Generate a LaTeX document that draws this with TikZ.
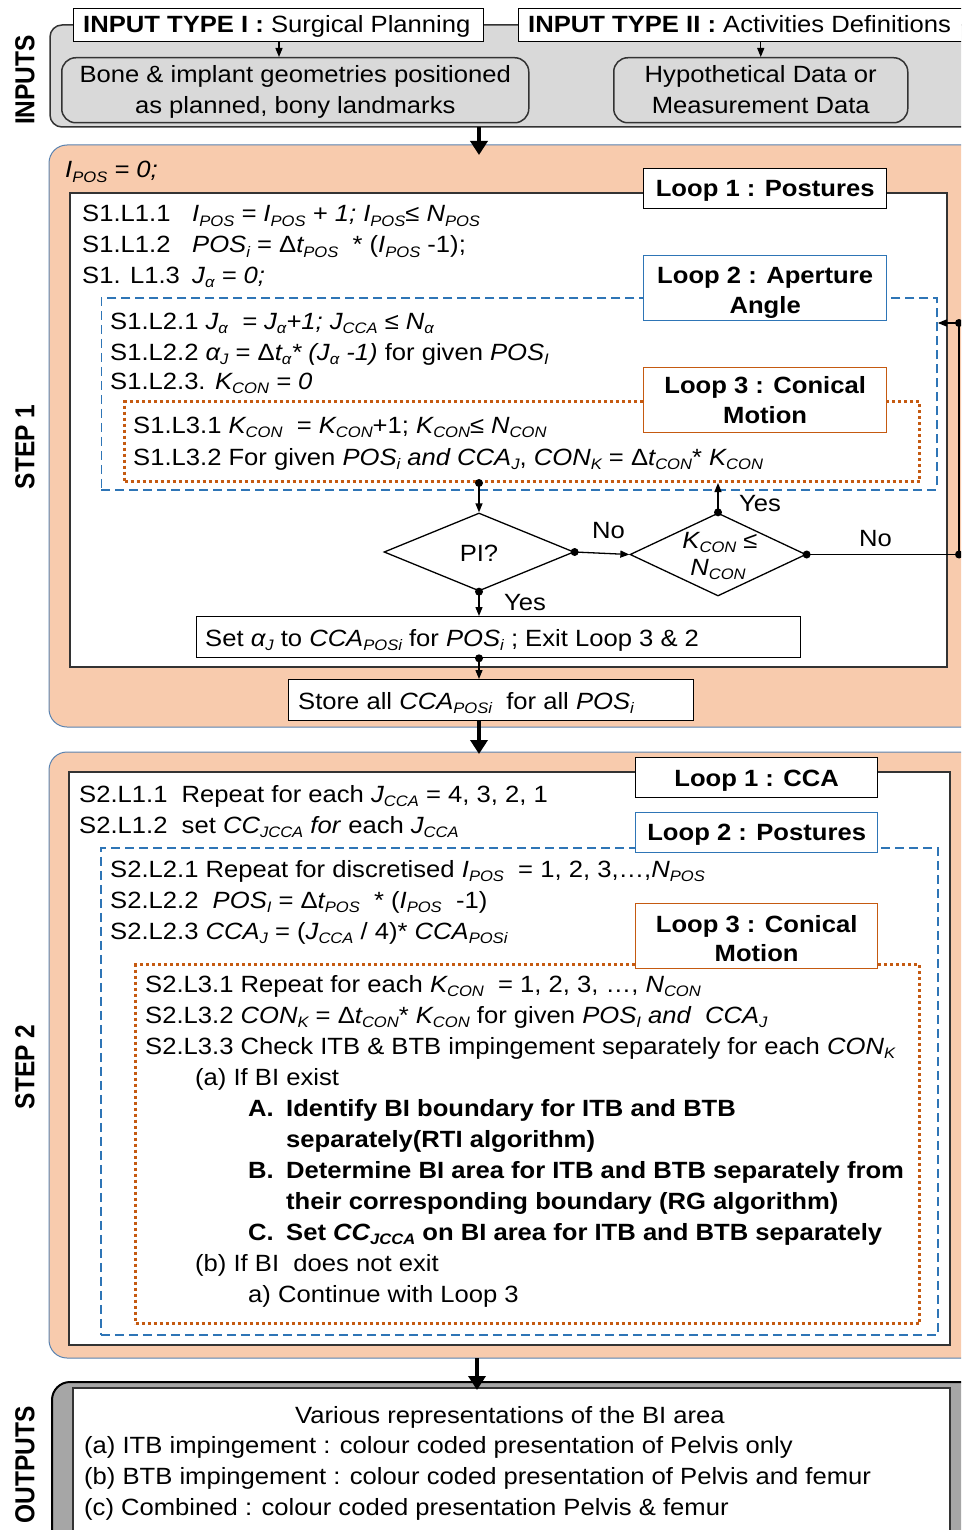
\documentclass[tikz,border=0pt]{standalone}
\usepackage{fontspec}
\setmainfont[FakeStretch=1.09]{Liberation Sans}
\newfontfamily\labelfont{Liberation Sans}
\usetikzlibrary{shapes.geometric,arrows.meta,calc}
\definecolor{peach}{HTML}{F8CBAD}
\definecolor{peachedge}{HTML}{5B83B0}
\definecolor{ingrey}{HTML}{D9D9D9}
\definecolor{outgrey}{HTML}{A6A6A6}
\definecolor{lblue}{HTML}{2E75B6}
\definecolor{lorange}{HTML}{C55A11}
\definecolor{edge}{HTML}{333333}
\newcommand\sub[1]{\raisebox{-4.8pt}{\fontsize{15.2}{15}\selectfont #1}}
\newcommand\fs{\fontsize{23.5}{31}\selectfont}
\begin{document}
\begin{tikzpicture}[x=1pt,y=-1pt,
  txt/.style={anchor=base west, inner sep=0pt, font=\fs},
  ctxt/.style={anchor=base, inner sep=0pt, font=\fs},
  btxt/.style={anchor=base west, inner sep=0pt, font=\fs\bfseries},
  lbltxt/.style={anchor=base, inner sep=0pt, font=\fs\bfseries},
  plainbox/.style={draw, fill=white, line width=1.3pt, inner sep=0pt, anchor=north west},
  bluebox/.style={draw=lblue, line width=1.8pt, dash pattern=on 9pt off 5pt, inner sep=0pt, anchor=north west},
  orangebox/.style={draw=lorange, line width=3pt, dash pattern=on 3pt off 3pt, inner sep=0pt, anchor=north west},
  roundbox/.style={draw=edge, fill=ingrey, line width=1.5pt, rounded corners=14pt, inner sep=0pt, anchor=north west},
  sarrow/.style={line width=1.3pt, -{Triangle[width=7pt,length=9pt]}},
  barrow/.style={line width=4pt, -{Triangle[width=17pt,length=14pt]}},
  dot/.style={circle, fill=black, inner sep=0pt, minimum size=8pt},
  dia/.style={diamond, draw, line width=1.3pt, inner sep=0pt},
  vlabel/.style={font=\labelfont\fontsize{24.5}{30}\selectfont\bfseries, rotate=90, inner sep=0pt}
]
\useasboundingbox (0,0) rectangle (961,1530);
\clip (0,0) rectangle (961,1530);
\fill[white] (0,0) rectangle (961,1530);

% ---------------- INPUTS ----------------
\draw[edge, fill=ingrey, line width=1.5pt, rounded corners=12pt] (50,25) rectangle (1000,127);
\node[plainbox, minimum width=410pt, minimum height=33pt] (t1) at (73,8) {};
\node[txt] (t1txt) at (83,33) {\textbf{INPUT TYPE I :} Surgical Planning};
\node[plainbox, minimum width=480pt, minimum height=33pt] (t2) at (518,8) {};
\node[txt] (t2txt) at (528,33) {\textbf{INPUT TYPE II :} Activities Definitions};
\node[roundbox, minimum width=467pt, minimum height=65pt] (n1) at (61,57) {};
\node[ctxt] (n1a) at (n1.center |- 0,83) {Bone \& implant geometries positioned};
\node[ctxt] (n1b) at (n1.center |- 0,114) {as planned, bony landmarks};
\node[roundbox, minimum width=294pt, minimum height=65pt] (n2) at (613,57) {};
\node[ctxt] (n2a) at (n2.center |- 0,83) {Hypothetical Data or};
\node[ctxt] (n2b) at (n2.center |- 0,114) {Measurement Data};
\draw[sarrow] (t1.south -| 279,0) -- (279,57);
\draw[sarrow] (n2.north |- t2.south) -- (n2.north);
\node[vlabel] (linputs) at (25,80) {\scalebox{1}[1.12]{INPUTS}};

% ---------------- STEP 1 ----------------
\draw[peachedge, fill=peach, line width=1pt, rounded corners=18pt] (49,145) rectangle (1000,727);
\node[txt] (ipos) at (65,178) {\textit{I\sub{POS} = 0;}};
\draw[edge, fill=white, line width=2pt] (70,193) rectangle (947,667);
\node[plainbox, minimum width=243pt, minimum height=40pt] (loop1) at (643,168) {};
\node[lbltxt] (loop1t) at (loop1.center |- 0,197) {Loop 1 : Postures};
\node[txt] (a11) at (82,222) {\makebox[110pt][l]{S1.L1.1}\textit{I\sub{POS} = I\sub{POS} + 1; I\sub{POS}≤ N\sub{POS}}};
\node[txt] (a12) at (82,253) {\makebox[110pt][l]{S1.L1.2}\textit{POS\sub{i}} = Δ\textit{t\sub{POS}}\ \ * (\textit{I\sub{POS}}\ -1);};
\node[txt] (a13) at (82,283) {\makebox[110pt][l]{S1. L1.3}\textit{J\sub{α} = 0;}};

\node[bluebox, minimum width=835.5pt, minimum height=192pt] (l2box) at (100.5,297) {};
\node[plainbox, draw=lblue, minimum width=243pt, minimum height=65pt] (loop2) at (643,255) {};
\node[lbltxt] (loop2t) at (loop2.center |- 0,283) {Loop 2 : Aperture};
\node[lbltxt] (loop2u) at (loop2.center |- 0,313) {Angle};
\node[txt] (a21) at (110,329) {S1.L2.1 \textit{J\sub{α}\ \ = J\sub{α}+1; J\sub{CCA} ≤ N\sub{α}}};
\node[txt] (a22) at (110,360) {S1.L2.2 \textit{α\sub{J}} = Δ\textit{t\sub{α}* (J\sub{α} -1)} for given \textit{POS\sub{I}}};
\node[txt] (a23) at (110,389) {S1.L2.3. \textit{K\sub{CON} = 0}};

\node[orangebox, minimum width=795pt, minimum height=80pt] (l3box) at (123,400) {};
\node[plainbox, draw=lorange, minimum width=243pt, minimum height=65pt] (loop3) at (643,367) {};
\node[lbltxt] (loop3t) at (loop3.center |- 0,393) {Loop 3 : Conical};
\node[lbltxt] (loop3u) at (loop3.center |- 0,423) {Motion};
\node[txt] (a31) at (133,433) {S1.L3.1 \textit{K\sub{CON}}\ \ = \textit{K\sub{CON}}+1; \textit{K\sub{CON}}≤ \textit{N\sub{CON}}};
\node[txt] (a32) at (133,465) {S1.L3.2 For given \textit{POS\sub{i} and CCA\sub{J}}, \textit{CON\sub{K}} = Δ\textit{t\sub{CON}}* \textit{K\sub{CON}}};

\node[dia, minimum width=190pt, minimum height=78pt] (pi) at (479,552) {};
\node[ctxt] (pitxt) at (479,561) {PI?};
\node[dia, minimum width=176pt, minimum height=83pt] (kd) at (718,554.5) {};
\node[ctxt] (kdtxt1) at (720,548) {\textit{K\sub{CON}} ≤};
\node[ctxt] (kdtxt2) at (718,575) {\textit{N\sub{CON}}};

\node[plainbox, minimum width=604.5pt, minimum height=41pt] (setbox) at (195.5,616) {};
\node[txt] (settxt) at (205,646) {Set \textit{α\sub{J}} to \textit{CCA\sub{POSi}} for \textit{POS\sub{i}} ; Exit Loop 3 \& 2};
\node[plainbox, minimum width=405pt, minimum height=41pt] (storebox) at (288,679) {};
\node[txt] (storetxt) at (298,709) {Store all \textit{CCA\sub{POSi}}\ \ for all \textit{POS\sub{i}}};

\node[dot] (d1) at (pi.north |- l3box.south) {};
\draw[sarrow] (d1.center) -- (pi.north);
\node[dot] (d2) at (pi.east) {};
\draw[sarrow] (d2.center) -- (kd.west);
\node[dot] (d3) at (kd.north) {};
\draw[sarrow] (d3.center) -- (kd.north |- l3box.south);
\node[dot] (d4) at (kd.east) {};
\coordinate (rb) at (959,554.5);
\coordinate (rt) at (959,323);
\node[dot] (d4b) at (rb) {};
\node[dot] (d4c) at (rt) {};
\draw[sarrow] (d4.center) -- (rb) -- (rt) -- (rt -| l2box.east);
\node[dot] (d5) at (pi.south) {};
\draw[sarrow] (d5.center) -- (pi.south |- setbox.north);
\node[dot] (d6) at (pi.south |- setbox.south) {};
\draw[sarrow] (d6.center) -- (pi.south |- storebox.north);
\node[txt] (no1) at (592,538) {No};
\node[txt] (yes1) at (739,511) {Yes};
\node[txt] (no2) at (859,546) {No};
\node[txt] (yes2) at (504,610) {Yes};
\node[vlabel] (lstep1) at (25,447) {\scalebox{1}[1.12]{STEP 1}};

% ---------------- STEP 2 ----------------
\draw[peachedge, fill=peach, line width=1pt, rounded corners=18pt] (49,752) rectangle (1000,1358);
\draw[edge, fill=white, line width=2pt] (69,772) rectangle (950,1345);
\node[plainbox, minimum width=242pt, minimum height=40pt] (cloop1) at (635,757) {};
\node[lbltxt] (cloop1t) at (cloop1.center |- 0,786) {Loop 1 : CCA};
\node[txt] (b11) at (79,802) {S2.L1.1\ \ Repeat for each \textit{J\sub{CCA}} = 4, 3, 2, 1};
\node[txt] (b12) at (79,833) {S2.L1.2\ \ set \textit{CC\sub{JCCA} for} each \textit{J\sub{CCA}}};

\node[bluebox, minimum width=837pt, minimum height=487pt] (m2box) at (100,847) {};
\node[plainbox, draw=lblue, minimum width=242pt, minimum height=40pt] (cloop2) at (635,812) {};
\node[lbltxt] (cloop2t) at (cloop2.center |- 0,840) {Loop 2 : Postures};
\node[txt] (b21) at (110,877) {S2.L2.1 Repeat for discretised \textit{I\sub{POS}}\ \ = 1, 2, 3,…,\textit{N\sub{POS}}};
\node[txt] (b22) at (110,908) {S2.L2.2\ \ \textit{POS\sub{I}} = Δ\textit{t\sub{POS}}\ \ * (\textit{I\sub{POS}}\ \ -1)};
\node[txt] (b23) at (110,939) {S2.L2.3 \textit{CCA\sub{J}} = (\textit{J\sub{CCA}} / 4)* \textit{CCA\sub{POSi}}};

\node[orangebox, minimum width=784pt, minimum height=359pt] (m3box) at (134,963) {};
\node[plainbox, draw=lorange, minimum width=242pt, minimum height=65pt] (cloop3) at (635,903) {};
\node[lbltxt] (cloop3t) at (cloop3.center |- 0,932) {Loop 3 : Conical};
\node[lbltxt] (cloop3u) at (cloop3.center |- 0,961) {Motion};
\node[txt] (b31) at (145,992) {S2.L3.1 Repeat for each \textit{K\sub{CON}}\ \ = 1, 2, 3, …, \textit{N\sub{CON}}};
\node[txt] (b32) at (145,1023) {S2.L3.2 \textit{CON\sub{K}} = Δ\textit{t\sub{CON}}* \textit{K\sub{CON}} for given \textit{POS\sub{I} and\ \ CCA\sub{J}}};
\node[txt] (b33) at (145,1054) {S2.L3.3 Check ITB \& BTB impingement separately for each \textit{CON\sub{K}}};
\node[txt] (b34) at (195,1085) {(a) If BI exist};
\node[btxt] (b35) at (248,1116) {\makebox[38pt][l]{A.}Identify BI boundary for ITB and BTB};
\node[btxt] (b36) at (286,1147) {separately(RTI algorithm)};
\node[btxt] (b37) at (248,1178) {\makebox[38pt][l]{B.}Determine BI area for ITB and BTB separately from};
\node[btxt] (b38) at (286,1209) {their corresponding\ boundary (RG algorithm)};
\node[btxt] (b39) at (248,1240) {\makebox[38pt][l]{C.}Set \textit{CC\sub{JCCA}} on BI area for ITB and BTB separately};
\node[txt] (b40) at (195,1271) {(b) If BI\ \ does not exit};
\node[txt] (b41) at (248,1302) {a) Continue with Loop 3};
\node[vlabel] (lstep2) at (25,1067) {\scalebox{1}[1.12]{STEP 2}};

% ---------------- OUTPUTS ----------------
\draw[black, fill=outgrey, line width=2pt, rounded corners=18pt] (52,1382) rectangle (1000,1600);
\draw[edge, fill=white, line width=1.5pt] (73,1388) rectangle (950,1600);
\node[ctxt] (o0) at (510,1423) {Various representations of the BI area};
\node[txt] (o1) at (84,1453) {(a) ITB impingement : colour coded presentation of Pelvis only};
\node[txt] (o2) at (84,1484) {(b) BTB impingement : colour coded presentation of Pelvis and femur};
\node[txt] (o3) at (84,1515) {(c) Combined : colour coded presentation Pelvis \& femur};
\node[vlabel] (loutputs) at (25,1465) {\scalebox{1}[1.12]{OUTPUTS}};

% ---------------- big arrows ----------------
\coordinate (b1s) at (479,127);
\coordinate (b1e) at (479,155);
\draw[barrow] (b1s) -- (b1e);
\coordinate (b2s) at (479,720);
\coordinate (b2e) at (479,754);
\draw[barrow] (b2s) -- (b2e);
\coordinate (b3s) at (477,1358);
\coordinate (b3e) at (477,1390);
\draw[barrow] (b3s) -- (b3e);
\end{tikzpicture}
\end{document}
